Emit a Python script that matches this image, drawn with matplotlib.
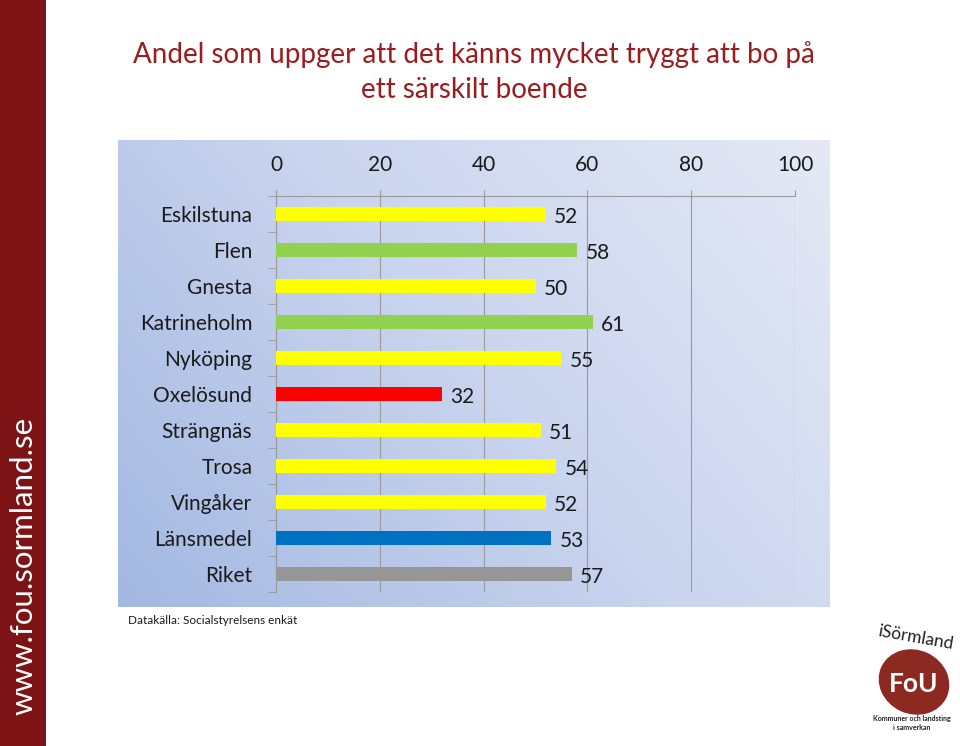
import numpy as np
import matplotlib.pyplot as plt
from matplotlib.patches import Rectangle, Ellipse
from matplotlib.colors import LinearSegmentedColormap

plt.rcParams['font.family'] = ['Lato', 'DejaVu Sans']

categories = ['Eskilstuna', 'Flen', 'Gnesta', 'Katrineholm', 'Nyköping',
              'Oxelösund', 'Strängnäs', 'Trosa', 'Vingåker', 'Länsmedel', 'Riket']
values = [52, 58, 50, 61, 55, 32, 51, 54, 52, 53, 57]
bar_colors = ['#ffff00', '#92d050', '#ffff00', '#92d050', '#ffff00', '#ff0000',
              '#ffff00', '#ffff00', '#ffff00', '#0070c0', '#969696']
xticks = [0, 20, 40, 60, 80, 100]

title = 'Andel som uppger att det känns mycket tryggt att bo på\nett särskilt boende'
source = 'Datakälla: Socialstyrelsens enkät'
site = 'www.fou.sormland.se'

W, H = 960, 746
fig = plt.figure(figsize=(W / 100, H / 100), dpi=100)
fig.patch.set_facecolor('white')

# red sidebar
fig.patches.append(Rectangle((0, 0), 46 / W, 1, transform=fig.transFigure,
                             facecolor='#7d1315', edgecolor='none', zorder=0))
fig.text(23 / W, 1 - 566 / H, site, rotation=90, color='white', fontsize=22.5,
         ha='center', va='center')

# title
fig.text(474 / W, 1 - 72 / H, title, color='#9b1b1e', fontsize=20,
         ha='center', va='center', linespacing=1.4)

# gradient background of chart area
bg = fig.add_axes([118 / W, 1 - 607 / H, (830 - 118) / W, (607 - 140) / H], zorder=0)
gx, gy = np.meshgrid(np.linspace(0, 1, 200), np.linspace(0, 1, 200))
grad = 0.65 * gx + 0.35 * (1 - gy)
cmap = LinearSegmentedColormap.from_list('bg', ['#a3b8e2', '#c9d4ee', '#e4e9f5'])
bg.imshow(grad, cmap=cmap, aspect='auto', extent=[0, 1, 0, 1], origin='upper')
bg.axis('off')

ax = fig.add_axes([276 / W, 1 - 592 / H, (795 - 276) / W, (592 - 196) / H], zorder=1)
ax.patch.set_alpha(0)
y = np.arange(len(categories))
ax.barh(y, values, height=0.4, color=bar_colors, zorder=3)
for yi, v in zip(y, values):
    ax.text(v + 1.6, yi + 0.08, str(v), va='center', ha='left', fontsize=15,
            color='#1a1a1a', zorder=4)

ax.set_xlim(0, 100)
ax.set_ylim(len(categories) - 0.5, -0.5)
ax.xaxis.tick_top()
ax.set_xticks(xticks)
ax.tick_params(axis='x', length=4, pad=11, labelsize=15, colors='#999999',
               labelcolor='#1a1a1a')
ax.set_yticks(y)
ax.set_yticklabels(categories)
ax.set_yticks(np.arange(len(categories) + 1) - 0.5, minor=True)
ax.tick_params(axis='y', which='major', length=0, pad=17, labelsize=15,
               labelcolor='#1a1a1a')
ax.tick_params(axis='y', which='minor', length=6, color='#999999')
ax.grid(axis='x', color='#9a9a9a', linewidth=0.8, zorder=1)
for s in ['right', 'bottom']:
    ax.spines[s].set_visible(False)
for s in ['top', 'left']:
    ax.spines[s].set_color('#9a9a9a')
    ax.spines[s].set_linewidth(0.8)

fig.text(128 / W, 1 - 621 / H, source, fontsize=8.5, color='#1a1a1a',
         ha='left', va='center')

# logo
lg = fig.add_axes([862 / W, 1 - 736 / H, 98 / W, 110 / H])
lg.set_xlim(0, 98)
lg.set_ylim(0, 110)
lg.axis('off')
lg.add_patch(Ellipse((52, 54), 72, 64, angle=-25, facecolor='#8c2a22', edgecolor='none'))
lg.text(52, 52, 'FoU', color='white', fontsize=19, fontweight='bold',
        ha='center', va='center')
lg.text(54, 98, 'iSörmland', color='#222222', fontsize=12.5, ha='center',
        va='center', rotation=-10)
lg.text(50, 13, 'Kommuner och landsting\ni samverkan', color='#222222',
        fontsize=5, fontweight='bold', ha='center', va='center', linespacing=1.2)

fig.savefig('out.png', dpi=100)
